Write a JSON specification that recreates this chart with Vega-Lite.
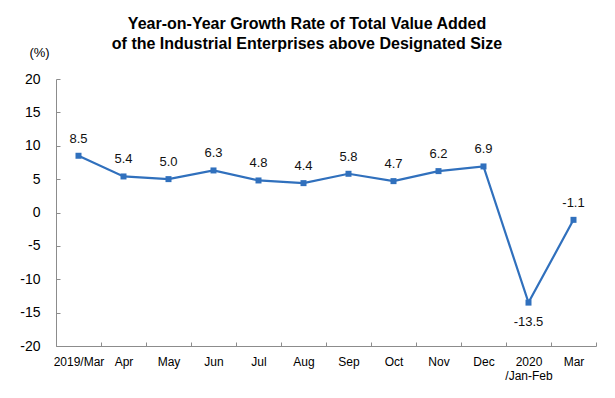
{
  "$schema": "https://vega.github.io/schema/vega-lite/v6.json",
  "autosize": "none",
  "width": 540,
  "height": 267,
  "padding": {"left": 56, "top": 79, "right": 19, "bottom": 52},
  "background": "white",
  "config": {
    "view": {"stroke": null},
    "font": "Liberation Sans",
    "locale": {"number": {"decimal": ".", "thousands": ",", "grouping": [3], "currency": ["$", ""], "minus": "-"}}
  },
  "title": {
    "text": ["Year-on-Year Growth Rate of Total Value Added", "of the Industrial Enterprises above Designated Size"],
    "anchor": "middle",
    "frame": "group",
    "dx": -19,
    "dy": 35,
    "offset": 29,
    "fontSize": 16,
    "fontWeight": "bold",
    "lineHeight": 20,
    "color": "black",
    "font": "Liberation Sans"
  },
  "data": {
    "values": [
      {"period": "2019/Mar", "rate": 8.5},
      {"period": "Apr", "rate": 5.4},
      {"period": "May", "rate": 5.0},
      {"period": "Jun", "rate": 6.3},
      {"period": "Jul", "rate": 4.8},
      {"period": "Aug", "rate": 4.4},
      {"period": "Sep", "rate": 5.8},
      {"period": "Oct", "rate": 4.7},
      {"period": "Nov", "rate": 6.2},
      {"period": "Dec", "rate": 6.9},
      {"period": "2020/Jan-Feb", "rate": -13.5},
      {"period": "2020/Mar", "rate": -1.1}
    ]
  },
  "encoding": {
    "x": {
      "field": "period",
      "type": "nominal",
      "sort": null,
      "scale": {"type": "band", "paddingInner": 0, "paddingOuter": 0},
      "axis": {
        "title": null,
        "labelAngle": 0,
        "domainColor": "#8c8c8c",
        "tickColor": "#8c8c8c",
        "tickSize": -4,
        "tickBand": "extent",
        "labelPadding": 14,
        "labelFontSize": 12,
        "labelColor": "black",
        "labelFont": "Liberation Sans",
        "labelLineHeight": 14,
        "labelExpr": "datum.label == '2020/Jan-Feb' ? ['2020', '/Jan-Feb'] : (datum.label == '2020/Mar' ? 'Mar' : datum.label)"
      }
    },
    "y": {
      "field": "rate",
      "type": "quantitative",
      "scale": {"domain": [-20, 20], "nice": false, "zero": false},
      "axis": {
        "values": [-20, -15, -10, -5, 0, 5, 10, 15, 20],
        "grid": false,
        "title": "(%)",
        "titleAngle": 0,
        "titleX": -17,
        "titleY": -27,
        "titleAlign": "center",
        "titleBaseline": "middle",
        "titleFontWeight": "normal",
        "titleFontSize": 13,
        "titleColor": "black",
        "titleFont": "Liberation Sans",
        "domainColor": "#8c8c8c",
        "tickColor": "#8c8c8c",
        "tickSize": -4,
        "labelPadding": 20,
        "labelFontSize": 14,
        "labelColor": "black",
        "labelFont": "Liberation Sans"
      }
    }
  },
  "layer": [
    {
      "mark": {"type": "line", "color": "#3070BD", "strokeWidth": 2.2, "interpolate": "linear"}
    },
    {
      "mark": {"type": "square", "color": "#3070BD", "opacity": 1, "size": 36, "filled": true}
    },
    {
      "transform": [{"filter": "datum.rate > -5"}],
      "mark": {"type": "text", "dy": -17, "fontSize": 13, "color": "#111", "font": "Liberation Sans"},
      "encoding": {"text": {"field": "rate", "type": "quantitative", "format": ".1f"}}
    },
    {
      "transform": [{"filter": "datum.rate <= -5"}],
      "mark": {"type": "text", "dy": 19, "fontSize": 13, "color": "#111", "font": "Liberation Sans"},
      "encoding": {"text": {"field": "rate", "type": "quantitative", "format": ".1f"}}
    }
  ]
}
